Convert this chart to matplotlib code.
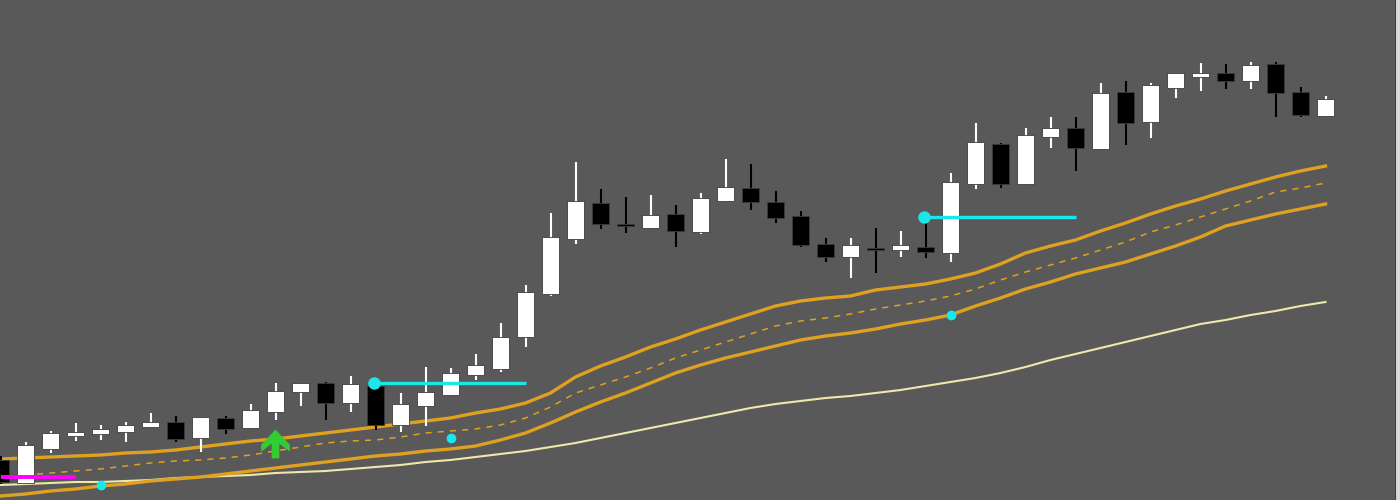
import numpy as np
from matplotlib import pyplot as plt, patches

# candle prices (chart units, bottom of plot = 0)
opens = [40, 17, 51, 64, 66, 68, 73, 78, 62, 82, 72, 88, 108, 117, 97, 114, 75, 94, 105, 125,
         131, 163, 206, 261, 297, 276, 272, 286, 268, 299, 312, 298, 284, 256, 243, 252, 250, 253,
         247, 316, 356, 316, 363, 372, 351, 408, 378, 412, 423, 427, 419, 436, 408, 384]
highs = [44, 58, 69, 77, 75, 78, 87, 84, 83, 84, 96, 117, 117, 118, 124, 117, 107, 133, 132, 146,
         177, 215, 287, 338, 311, 303, 305, 295, 307, 341, 336, 309, 289, 262, 262, 272, 269, 283,
         327, 377, 357, 372, 383, 383, 417, 419, 417, 427, 437, 436, 438, 438, 413, 404]
lows = [16, 16, 47, 59, 60, 58, 73, 58, 48, 66, 72, 80, 94, 80, 88, 70, 68, 74, 105, 120,
        128, 153, 204, 256, 271, 267, 272, 253, 266, 298, 290, 277, 253, 238, 222, 227, 243, 242,
        238, 311, 312, 316, 352, 329, 351, 355, 362, 402, 409, 411, 411, 383, 383, 384]
closes = [18, 55, 67, 68, 71, 75, 78, 61, 83, 71, 90, 109, 117, 97, 116, 75, 96, 108, 127, 135,
          163, 208, 263, 299, 276, 274, 285, 269, 302, 313, 298, 282, 255, 243, 255, 250, 255, 248,
          318, 358, 316, 365, 372, 352, 407, 377, 415, 427, 427, 419, 435, 407, 385, 401]

# band lines
band_upper = [41, 42, 43, 44, 45, 47, 48, 50, 53, 56, 59, 61, 64, 67, 70, 73, 76, 79, 82, 87,
              91, 97, 107, 123, 134, 143, 153, 161, 170, 178, 186, 194, 199, 202, 204, 210, 213, 216,
              221, 227, 236, 247, 254, 260, 269, 277, 286, 294, 301, 309, 316, 323, 329, 334]
band_mid = [22, 25, 27, 29, 31, 34, 37, 39, 40, 42, 45, 49, 53, 57, 59, 60, 63, 67, 69, 71,
            75, 82, 93, 107, 115, 123, 132, 142, 150, 158, 166, 174, 179, 182, 186, 191, 195, 199,
            204, 211, 220, 228, 235, 242, 250, 258, 268, 275, 283, 291, 299, 308, 312, 317]
band_lower = [4, 6, 9, 11, 14, 16, 19, 21, 23, 26, 29, 32, 35, 38, 41, 44, 46, 49, 51, 54,
              60, 67, 77, 88, 98, 107, 117, 127, 135, 142, 148, 154, 160, 164, 167, 171, 176, 180,
              185, 194, 202, 211, 218, 226, 232, 238, 246, 254, 263, 274, 280, 286, 291, 296]
slow_ma = [15, 16, 17, 18, 18, 19, 20, 22, 23, 24, 25, 27, 28, 29, 31, 33, 35, 38, 40, 43,
           46, 49, 53, 57, 62, 67, 72, 77, 82, 87, 92, 96, 99, 102, 104, 107, 110, 114,
           118, 122, 127, 133, 140, 146, 152, 158, 164, 170, 176, 180, 185, 189, 194, 198]

# signals
level_bars = [(15, 21), (37, 43)]
dot_bars = [4, 18, 38]
dot_prices = [15, 62, 185]
arrow_bar = 11
arrow_price = (42, 70)
magenta_bars = (0, 3)
magenta_price = 23

bg = '#595959'
fig = plt.figure(figsize=(14, 5), dpi=100, facecolor=bg)
ax = fig.add_axes([0, 0, 1, 1], facecolor=bg)
ax.set_xlim(-0.02, 55.98)
ax.set_ylim(0, 500)
ax.axis('off')

x = np.arange(len(opens))
ax.plot(x, slow_ma, color='#eee8aa', lw=1.5, zorder=2)
ax.plot(x, band_upper, color='#e0a020', lw=2.4, zorder=2)
ax.plot(x, band_lower, color='#e0a020', lw=2.4, zorder=2)
ax.plot(x, band_mid, color='#e0a020', lw=1.1, ls=(0, (4, 4)), zorder=2)

w = 0.7
for i in range(len(opens)):
    o, h, l, c = opens[i], highs[i], lows[i], closes[i]
    col = 'white' if c >= o else 'black'
    ax.plot([i, i], [l, h], color=col, lw=1.5, zorder=3, solid_capstyle='butt')
    lo, hi = min(o, c), max(o, c)
    if hi - lo < 2:
        lo, hi = (lo + hi) / 2 - 1.5, (lo + hi) / 2 + 1.5
    ax.add_patch(patches.Rectangle((i - w / 2, lo), w, hi - lo, facecolor=col,
                                   edgecolor='#3c3c3c', lw=0.6, zorder=4))

ax.plot(list(magenta_bars), [magenta_price] * 2, color='#ff00ff', lw=2.8, zorder=5,
        solid_capstyle='butt')

for a, b in level_bars:
    ax.plot([a, b], [highs[a]] * 2, color='#18e8ec', lw=2.4, zorder=5, solid_capstyle='butt')
    ax.plot(a - 0.05, highs[a], 'o', color='#18e8ec', ms=8, zorder=6)

ax.plot(dot_bars, dot_prices, 'o', color='#18e8ec', ms=6, zorder=6, lw=0)

# buy arrow: shaft + head (x in bars, y in price)
ab, (y0, y1) = arrow_bar, arrow_price
sw, hw, hl = 0.14, 0.56, 21
arrow_pts = [(ab - sw, y0), (ab + sw, y0), (ab + sw, y1 - hl + 8), (ab + hw, y1 - hl),
             (ab + hw, y1 - hl + 6), (ab, y1), (ab - hw, y1 - hl + 6), (ab - hw, y1 - hl),
             (ab - sw, y1 - hl + 8)]
ax.add_patch(patches.Polygon(arrow_pts, closed=True, facecolor='#32cd32',
                             edgecolor='#32cd32', lw=0.5, zorder=7))

# right frame edge
fig.add_artist(patches.Rectangle((1396 / 1400, 0), 4 / 1400, 1, transform=fig.transFigure,
                                 facecolor='#d8d8d8', edgecolor='none'))
fig.add_artist(patches.Rectangle((1395 / 1400, 0), 1 / 1400, 1, transform=fig.transFigure,
                                 facecolor='#3a3a3a', edgecolor='none'))

fig.savefig('out.png', dpi=100, facecolor=bg)
